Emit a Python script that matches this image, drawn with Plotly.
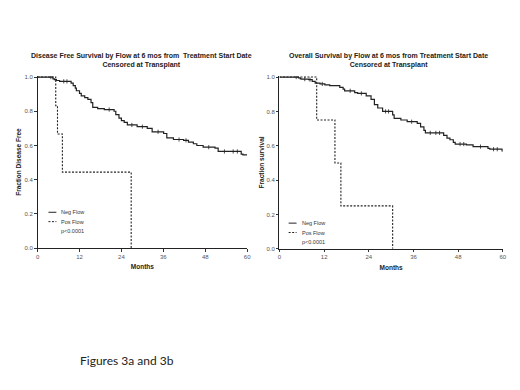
import bisect
import plotly.graph_objects as go

# ---- data ----
months_ticks = [0, 12, 24, 36, 48, 60]
frac_ticks = [0.0, 0.2, 0.4, 0.6, 0.8, 1.0]
frac_tick_text = ["0.0", "0.2", "0.4", "0.6", "0.8", "1.0"]

# Fig 3a: Disease free survival
dfs_neg_t = [0, 4.4, 4.8, 5.4, 6.3, 9.6, 10.2, 10.8, 11.1, 12.0, 12.5, 13.5, 14.4, 15.3, 15.8, 17.2, 19.1,
             21.9, 22.4, 23.3, 24.0, 24.8, 25.7, 28.5, 31.4, 32.8, 36.1, 37.0, 38.9, 41.8, 43.2, 44.6,
             45.6, 47.4, 50.8, 51.7, 58.3, 58.8, 60]
dfs_neg_s = [1.0, 0.99, 0.985, 0.98, 0.975, 0.965, 0.95, 0.935, 0.92, 0.905, 0.89, 0.88, 0.87, 0.85, 0.823,
             0.815, 0.81, 0.80, 0.78, 0.76, 0.745, 0.735, 0.72, 0.71, 0.70, 0.68, 0.67, 0.645, 0.635, 0.63,
             0.62, 0.61, 0.60, 0.59, 0.585, 0.565, 0.55, 0.545, 0.545]
dfs_neg_censor = [3.8, 7.5, 8.4, 20.5, 27.0, 30.0, 34.5, 40.5, 42.5, 49.0, 53.5, 56.0, 57.2]
dfs_pos_t = [0, 5.2, 5.7, 7.1, 26.8]
dfs_pos_s = [1.0, 0.833, 0.667, 0.444, 0.0]

# Fig 3b: Overall survival
os_neg_t = [0, 5.1, 5.6, 6.0, 7.8, 8.8, 9.6, 10.9, 12.2, 13.5, 16.2, 17.1, 17.5, 20.2, 21.0, 23.3, 24.6,
            25.5, 26.4, 27.7, 30.4, 30.8, 32.6, 34.3, 37.0, 37.9, 38.8, 39.2, 44.1, 45.0, 45.8, 46.7,
            47.2, 50.2, 52.0, 56.0, 56.5, 59.8, 60]
os_neg_s = [1.0, 0.995, 0.99, 0.988, 0.985, 0.975, 0.965, 0.96, 0.955, 0.95, 0.94, 0.93, 0.92, 0.91,
            0.905, 0.89, 0.87, 0.84, 0.82, 0.80, 0.78, 0.76, 0.75, 0.74, 0.73, 0.71, 0.69, 0.675, 0.66,
            0.645, 0.635, 0.62, 0.61, 0.605, 0.595, 0.585, 0.58, 0.57, 0.57]
os_neg_censor = [4.5, 6.8, 8.2, 11.5, 19.0, 22.0, 28.5, 29.3, 35.5, 40.5, 42.0, 43.0, 48.5, 49.5, 54.0,
                 57.5, 58.5]
os_pos_t = [0, 10.0, 14.9, 16.5, 30.4]
os_pos_s = [1.0, 0.75, 0.5, 0.25, 0.0]

titles = ["Disease Free Survival by Flow at 6 mos from  Treatment Start Date<br>Censored at Transplant",
          "Overall Survival by Flow at 6 mos from Treatment Start Date<br>Censored at Transplant"]
ylabels = ["Fraction Disease Free", "Fraction survival"]
legend_names = ["Neg Flow", "Pos Flow"]
pvalues = ["p<0.0001", "p<0.0001"]
caption = "Figures 3a and 3b"

W, H = 520, 390
def px(x):
    return x / W
def py(y):
    return (H - y) / H

def step_at(ts, ss, t):
    # value of the step curve at time t (for placing censor ticks on the curve)
    return ss[bisect.bisect_right(ts, t) - 1]

FONT = "Liberation Sans, Arial, sans-serif"
LINE = "#222222"

fig = go.Figure()

panels = [
    dict(xa="x", ya="y", x0=36, x1=248, y0=249.3, y1=76,
         neg=(dfs_neg_t, dfs_neg_s), cens=dfs_neg_censor, pos=(dfs_pos_t, dfs_pos_s), tcx=141,
         legx=47, legy=213, stand=2),
    dict(xa="x2", ya="y2", x0=280.7, x1=506.7, y0=250, y1=76,
         neg=(os_neg_t, os_neg_s), cens=os_neg_censor, pos=(os_pos_t, os_pos_s), tcx=391,
         legx=290, legy=224, stand=1),
]

annotations = []
shapes = []
for i, p in enumerate(panels):
    fig.add_trace(go.Scatter(x=p["neg"][0], y=p["neg"][1], mode="lines", line_shape="hv",
                             line=dict(color=LINE, width=1.2), name=legend_names[0],
                             xaxis=p["xa"], yaxis=p["ya"], showlegend=False))
    fig.add_trace(go.Scatter(x=p["cens"], y=[step_at(p["neg"][0], p["neg"][1], t) for t in p["cens"]],
                             mode="markers", marker=dict(symbol="line-ns", size=3,
                                                         line=dict(color=LINE, width=0.8)),
                             xaxis=p["xa"], yaxis=p["ya"], showlegend=False, hoverinfo="skip"))
    fig.add_trace(go.Scatter(x=p["pos"][0], y=p["pos"][1], mode="lines", line_shape="hv",
                             line=dict(color=LINE, width=1.1, dash="2px,1.5px"), name=legend_names[1],
                             xaxis=p["xa"], yaxis=p["ya"], showlegend=False))
    sfx = "" if i == 0 else "2"
    ax = dict(range=[0, 60], tickvals=months_ticks, ticks="outside", ticklen=2.5, tickwidth=0.8,
              tickcolor="#333", showline=True, linecolor="#222", linewidth=1, showgrid=False,
              zeroline=False, tickfont=dict(size=6, color="#555", family=FONT),
              domain=[px(p["x0"]), px(p["x1"])], anchor="y" + sfx,
              title=dict(text="<b>Months</b>", font=dict(size=6.5, color="#222", family=FONT), standoff=5))
    ay = dict(range=[0, 1.006], tickvals=frac_ticks, ticktext=frac_tick_text,
              ticks="outside", ticklen=2.5, tickwidth=0.8, tickcolor="#333", showline=True,
              linecolor="#222", linewidth=1, showgrid=False, zeroline=False,
              tickfont=dict(size=6, color="#555", family=FONT),
              domain=[py(p["y0"]), py(p["y1"] - 1)], anchor="x" + sfx,
              title=dict(text="<b>" + ylabels[i] + "</b>", font=dict(size=6.5, color="#222", family=FONT),
                         standoff=p["stand"]))
    fig.layout["xaxis" + sfx] = ax
    fig.layout["yaxis" + sfx] = ay
    annotations.append(dict(text="<b>" + titles[i] + "</b>", x=px(p["tcx"]), y=py(59.5), xref="paper",
                            yref="paper", xanchor="center", yanchor="middle", showarrow=False,
                            font=dict(size=7, color="#222", family=FONT)))
    lx, ly = p["legx"], p["legy"]
    shapes.append(dict(type="line", xref="paper", yref="paper", x0=px(lx), x1=px(lx + 8),
                       y0=py(ly), y1=py(ly), line=dict(color=LINE, width=1)))
    shapes.append(dict(type="line", xref="paper", yref="paper", x0=px(lx), x1=px(lx + 8),
                       y0=py(ly + 9.5), y1=py(ly + 9.5), line=dict(color=LINE, width=1, dash="2px,1.5px")))
    for k, t in enumerate([legend_names[0], legend_names[1], pvalues[i]]):
        annotations.append(dict(text=t, x=px(lx + 11), y=py(ly + 9.5 * k), xref="paper", yref="paper",
                                xanchor="left", yanchor="middle", showarrow=False,
                                font=dict(size=5.5, color="#333", family=FONT)))

annotations.append(dict(text=caption, x=px(77), y=py(363), xref="paper", yref="paper", xanchor="left",
                        yanchor="middle", showarrow=False,
                        font=dict(size=12, color="#222", family="Lato, Open Sans, sans-serif")))

fig.update_layout(width=W, height=H, margin=dict(l=0, r=0, t=0, b=0), paper_bgcolor="white",
                  plot_bgcolor="white", annotations=annotations, shapes=shapes, showlegend=False)

fig.write_html("out.html", config={"displayModeBar": False},
               post_script="document.body.style.margin='0';")
